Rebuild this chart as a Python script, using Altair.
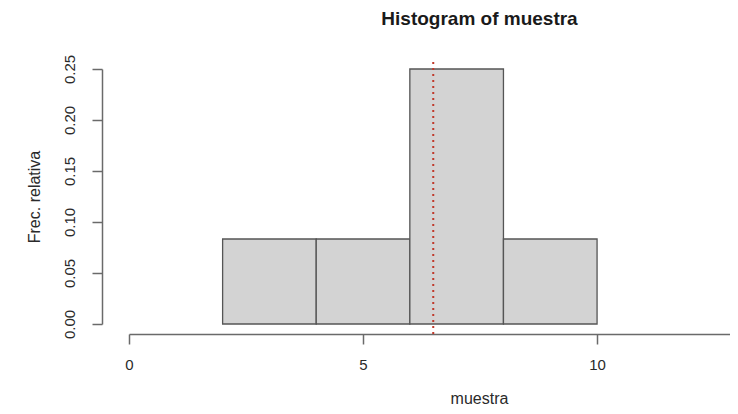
import altair as alt
import pandas as pd

# Histogram data (relative frequencies)
bin_start = [2, 4, 6, 8]
bin_end = [4, 6, 8, 10]
rel_freq = [1/12, 1/12, 3/12, 1/12]

# Mean marker (dotted red line)
mean_value = [6.5]
line_low = [-0.0098]
line_high = [0.26]

x_ticks = [0, 5, 10]
y_ticks = [0.0, 0.05, 0.10, 0.15, 0.20, 0.25]

FONT = "Liberation Sans"
AX = "#6a6a6a"
TXT = "#2a2a2a"

bars_df = pd.DataFrame({"start": bin_start, "end": bin_end, "freq": rel_freq})
line_df = pd.DataFrame({"m": mean_value, "lo": line_low, "hi": line_high})

x_scale = alt.Scale(domain=[0, 12.84], nice=False, zero=False)
y_scale = alt.Scale(domain=[0, 0.25], nice=False)

bars = alt.Chart(bars_df).mark_bar(
    fill="#d3d3d3", stroke="#555555", strokeWidth=1.3
).encode(
    x=alt.X("start:Q", scale=x_scale,
            axis=alt.Axis(values=x_ticks, title="muestra", offset=10, tickSize=10,
                          labelPadding=13, grid=False, domainColor=AX, tickColor=AX,
                          domainWidth=1.5, tickWidth=1.5,
                          labelFont=FONT, labelFontSize=15, labelColor=TXT,
                          titleFont=FONT, titleFontSize=16, titleFontWeight="normal",
                          titleColor=TXT, titleX=350, titleY=69,
                          titleBaseline="alphabetic", titleAnchor="start", titleAlign="center",
                          labelFlush=False)),
    x2="end:Q",
    y=alt.Y("freq:Q", scale=y_scale,
            axis=alt.Axis(values=y_ticks, title="Frec. relativa", offset=27, tickSize=10,
                          labelAngle=-90, labelAlign="center", labelBaseline="bottom",
                          labelPadding=15, grid=False, domainColor=AX, tickColor=AX,
                          domainWidth=1.5, tickWidth=1.5, format=".2f",
                          labelFont=FONT, labelFontSize=15, labelColor=TXT,
                          titleFont=FONT, titleFontSize=16, titleFontWeight="normal",
                          titleColor=TXT, titlePadding=20, labelFlush=False)),
    y2=alt.Y2(datum=0),
)

vline = alt.Chart(line_df).mark_rule(
    color="#c0392b", strokeDash=[2, 4], strokeWidth=2
).encode(
    x=alt.X("m:Q", scale=x_scale),
    y=alt.Y("lo:Q", scale=y_scale),
    y2="hi:Q",
)

chart = alt.layer(bars, vline).properties(
    width=601,
    height=255,
    autosize=alt.AutoSizeParams(type="none"),
    padding={"left": 121, "top": 61, "right": 0, "bottom": 82},
    title=alt.TitleParams(
        "Histogram of muestra", font=FONT, fontSize=19, fontWeight="bold",
        color="#1a1a1a", anchor="middle", dx=50, offset=10, baseline="alphabetic",
    ),
).configure_view(stroke=None)

chart.save("out.html", embed_options={"renderer": "svg", "actions": False})
